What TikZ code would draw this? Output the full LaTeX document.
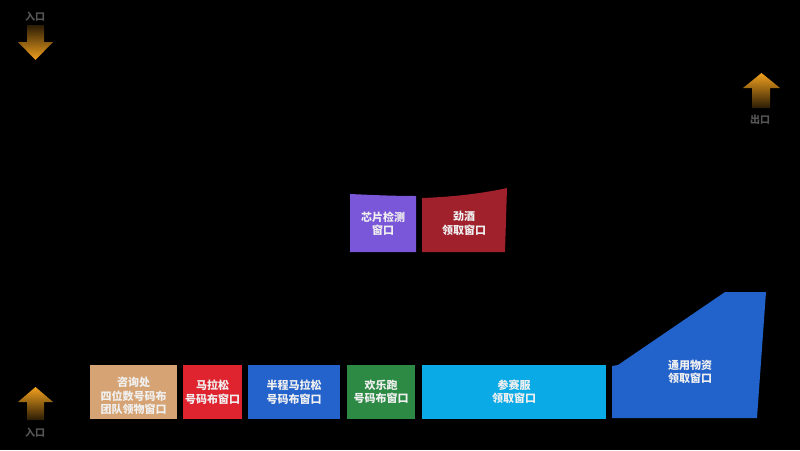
\documentclass[tikz,border=0pt]{standalone}
\usepackage{fontspec}
\newfontfamily\cjk{Noto Sans CJK SC}
\usetikzlibrary{shadings}
\definecolor{tan}{HTML}{D6A474}
\definecolor{mred}{HTML}{E0242F}
\definecolor{mblue}{HTML}{2563CC}
\definecolor{mgreen}{HTML}{2C8A45}
\definecolor{mcyan}{HTML}{0AAAE6}
\definecolor{gblue}{HTML}{2262CB}
\definecolor{mpurple}{HTML}{7A56D8}
\definecolor{wred}{HTML}{A0202C}
\definecolor{aorange}{HTML}{F2A11E}
\definecolor{adark}{HTML}{2A1C05}
\definecolor{gtext}{HTML}{555555}
\tikzset{
  lbl/.style={text=white!94!black, font=\cjk\bfseries\fontsize{11}{13.5}\selectfont, align=center, inner sep=0pt},
  gate/.style={text=gtext, font=\cjk\bfseries\fontsize{10}{12}\selectfont, inner sep=0pt},
  downarr/.style={top color=adark, bottom color=aorange, draw=none},
  uparr/.style={top color=aorange, bottom color=adark, draw=none}
}
\begin{document}
\begin{tikzpicture}[x=1pt,y=-1pt]
\useasboundingbox (0,0) rectangle (800,450);
\fill[black] (0,0) rectangle (800,450);
% top-left entrance arrow (down)
\shade[downarr] (27,25) -- (44,25) -- (44,42) -- (53,42) -- (35.5,60) -- (18,42) -- (27,42) -- cycle;
\node[gate] (in1) at (35,17) {入口};
% bottom-left entrance arrow (up)
\shade[uparr] (35.5,387) -- (53,402) -- (44,402) -- (44,420) -- (27,420) -- (27,402) -- (18,402) -- cycle;
\node[gate] (in2) at (35,433) {入口};
% top-right exit arrow (up)
\shade[uparr] (761.5,73) -- (780,88) -- (770,88) -- (770,108) -- (752,108) -- (752,88) -- (743,88) -- cycle;
\node[gate] (out) at (760,120) {出口};
% bottom row
\fill[tan] (90,365) rectangle (177,419);
\node[lbl] (b1) at (133.5,396) {咨询处\\四位数号码布\\团队领物窗口};
\fill[mred] (183,365) rectangle (242,419);
\node[lbl] (b2) at (212.5,392) {马拉松\\号码布窗口};
\fill[mblue] (248,365) rectangle (340,419);
\node[lbl] (b3) at (294,392) {半程马拉松\\号码布窗口};
\fill[mgreen] (347,365) rectangle (415,419);
\node[lbl] (b4) at (381,392) {欢乐跑\\号码布窗口};
\fill[mcyan] (422,365) rectangle (606,419);
\node[lbl] (b5) at (514,392) {参赛服\\领取窗口};
\fill[gblue] (612,366) -- (618,365) -- (725,292) -- (766,292) -- (757,418) -- (612,418) -- cycle;
\node[lbl] (b6) at (690,372) {通用物资\\领取窗口};
% middle
\fill[mpurple] (350,194) .. controls (372,195) and (394,196) .. (416,196) -- (416,252) -- (350,252) -- cycle;
\node[lbl] (m1) at (383,223.5) {芯片检测\\窗口};
\fill[wred] (422,198) .. controls (450,197) and (480,194) .. (507,188) -- (505,252) -- (422,252) -- cycle;
\node[lbl] (m2) at (464,223.5) {劲酒\\领取窗口};
\end{tikzpicture}
\end{document}
